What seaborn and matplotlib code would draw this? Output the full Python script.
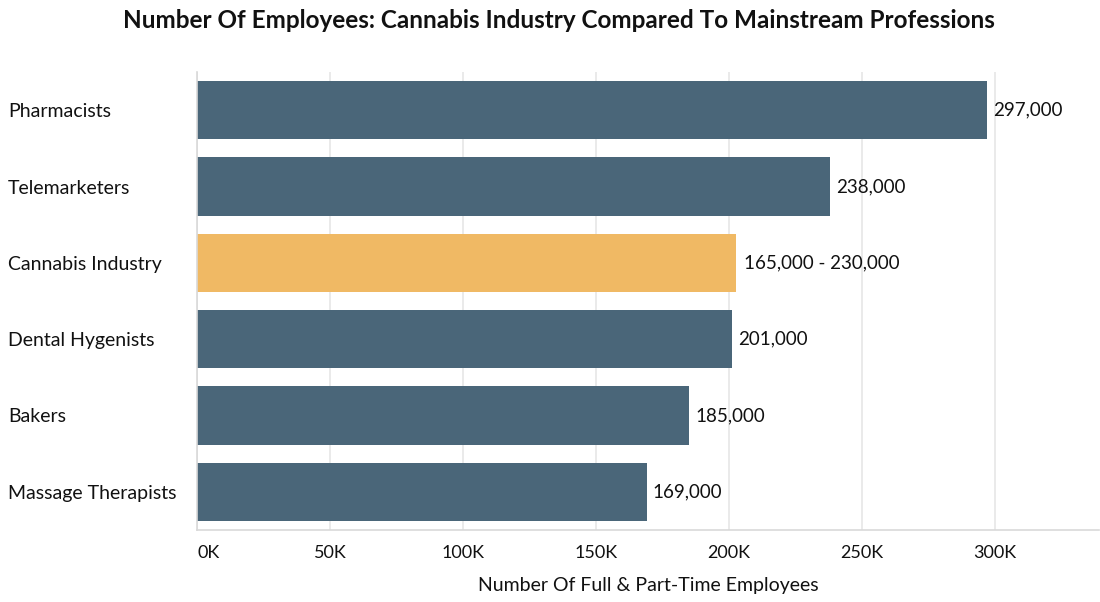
import matplotlib
matplotlib.use("Agg")
import matplotlib.pyplot as plt
import seaborn as sns
import pandas as pd
from matplotlib.ticker import FuncFormatter

# Employment counts by occupation
categories = ["Pharmacists", "Telemarketers", "Cannabis Industry",
              "Dental Hygenists", "Bakers", "Massage Therapists"]
employees = [297000, 238000, 202500, 201000, 185000, 169000]
value_labels = ["297,000", "238,000", "165,000 - 230,000",
                "201,000", "185,000", "169,000"]
groups = ["Other", "Other", "Cannabis", "Other", "Other", "Other"]
x_ticks = [0, 50000, 100000, 150000, 200000, 250000, 300000]

df = pd.DataFrame({"category": categories, "employees": employees, "group": groups})
palette = {"Other": "#4a6679", "Cannabis": "#f0b964"}

sns.set_theme(style="white")
plt.rcParams["font.family"] = ["Lato", "DejaVu Sans"]

fig = plt.figure(figsize=(11, 6.02), dpi=100)
ax = fig.add_axes([197 / 1100, 1 - 530 / 602, (1099 - 197) / 1100, (530 - 72) / 602])

sns.barplot(data=df, y="category", x="employees", hue="group", palette=palette,
            order=categories, dodge=False, width=0.76, legend=False, ax=ax,
            saturation=1, linewidth=0)

ax.set_xlim(0, 339000)
ax.set_ylim(5.5, -0.5)
ax.set_xticks(x_ticks)
ax.xaxis.set_major_formatter(FuncFormatter(lambda v, p: f"{int(v / 1000)}K"))
ax.grid(axis="x", color="#e6e6e6", linewidth=1.2)
ax.set_axisbelow(True)

for side in ["top", "right"]:
    ax.spines[side].set_visible(False)
for side in ["left", "bottom"]:
    ax.spines[side].set_color("#d9d9d9")
    ax.spines[side].set_linewidth(1.2)

ax.tick_params(axis="x", length=5, color="#d9d9d9", width=1.2, labelsize=13,
               labelcolor="#111111", pad=6)
ax.tick_params(axis="y", length=0, labelsize=14, labelcolor="#111111",
               pad=(197 - 8) * 72 / 100)
for lbl in ax.get_yticklabels():
    lbl.set_horizontalalignment("left")
xlabels = ax.get_xticklabels()
xlabels[0].set_horizontalalignment("left")

ax.set_ylabel("")
ax.set_xlabel("Number Of Full & Part-Time Employees", fontsize=14,
              color="#111111", labelpad=11)

for i, (val, txt) in enumerate(zip(employees, value_labels)):
    offset = 5.8 if groups[i] == "Cannabis" else 4.3
    ax.annotate(txt, xy=(val, i), xytext=(offset, 0), textcoords="offset points",
                va="center", ha="left", fontsize=13.5, color="#111111")

fig.suptitle("Number Of Employees: Cannabis Industry Compared To Mainstream Professions",
             x=0.508, y=0.985, fontsize=17.5, fontweight="bold", color="#111111")

fig.savefig("out.png", dpi=100)
